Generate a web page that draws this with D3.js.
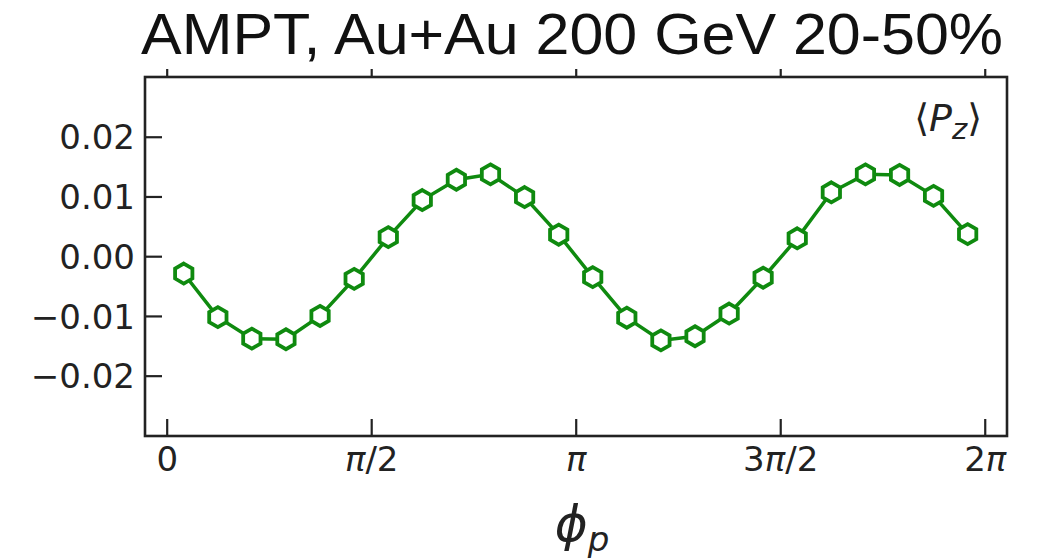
<!DOCTYPE html>
<html>
<head>
<meta charset="utf-8">
<script src="https://cdn.jsdelivr.net/npm/d3@7"></script>
<style>
  body { margin: 0; background: #fff; }
  svg { display: block; }
  .tick text { font-family: "DejaVu Sans", sans-serif; fill: #222; }
</style>
</head>
<body>
<div id="grafico"></div>
<script>
// dados (24 bins em phi_p)
var phiBins = [0.131, 0.393, 0.654, 0.916, 1.178, 1.440, 1.702, 1.963, 2.225, 2.487, 2.749, 3.011,
               3.272, 3.534, 3.796, 4.058, 4.320, 4.581, 4.843, 5.105, 5.367, 5.629, 5.890, 6.152];
var pzValores = [-0.0029, -0.0102, -0.0138, -0.0139, -0.0100, -0.0038, 0.0032, 0.0094, 0.0128, 0.0137, 0.0099, 0.0036,
                 -0.0035, -0.0103, -0.0141, -0.0134, -0.0096, -0.0036, 0.0030, 0.0107, 0.0137, 0.0136, 0.0101, 0.0037];
var xTicks = [0, Math.PI / 2, Math.PI, 3 * Math.PI / 2, 2 * Math.PI];
var xTickLabels = [["", "0", ""], ["", "π", "/2"], ["", "π", ""], ["3", "π", "/2"], ["2", "π", ""]];
var yTicks = [-0.02, -0.01, 0, 0.01, 0.02];
var yTickLabels = ["\u22120.02", "\u22120.01", "0.00", "0.01", "0.02"];
var titulo = "AMPT, Au+Au 200 GeV 20-50%";

var largura = 1045, altura = 558;
var margem = {top: 77, right: 38, bottom: 122, left: 145};
var w = largura - margem.left - margem.right;
var h = altura - margem.top - margem.bottom;
var verde = "#0f8a0f";

var svg = d3.select("#grafico").append("svg")
    .attr("width", largura)
    .attr("height", altura);

var g = svg.append("g")
    .attr("transform", "translate(" + margem.left + "," + margem.top + ")");

var x = d3.scaleLinear().domain([-0.1666, 2 * Math.PI + 0.171]).range([0, w]);
var y = d3.scaleLinear().domain([-0.0301, 0.0300]).range([h, 0]);

// eixos
var eixoY = g.append("g")
    .call(d3.axisLeft(y).tickValues(yTicks).tickSize(-17).tickPadding(10)
        .tickFormat(function(d, i) { return yTickLabels[i]; }));
eixoY.selectAll("text").style("font-size", "34px").attr("dy", "0.36em");

var eixoX = g.append("g")
    .attr("transform", "translate(0," + h + ")")
    .call(d3.axisBottom(x).tickValues(xTicks).tickSize(-17).tickPadding(11)
        .tickFormat(""));
eixoX.selectAll(".tick text").each(function(d, i) {
    var t = d3.select(this).style("font-size", "34px");
    var partes = xTickLabels[i];
    t.append("tspan").text(partes[0]);
    t.append("tspan").style("font-style", "italic").text(partes[1] == "π" ? "π" : "");
    if (partes[1] != "π") t.append("tspan").text(partes[1]);
    t.append("tspan").text(partes[2]);
});

var eixoTopo = g.append("g")
    .call(d3.axisTop(x).tickValues(xTicks).tickSize(8).tickFormat(""));

[eixoY, eixoX, eixoTopo].forEach(function(e) {
    e.select(".domain").remove();
    e.selectAll(".tick line").attr("stroke", "#222").attr("stroke-width", 2.2);
});

// moldura
g.append("rect")
    .attr("width", w).attr("height", h)
    .attr("fill", "none")
    .attr("stroke", "#222")
    .attr("stroke-width", 2.6);

// linha
var linha = d3.line()
    .x(function(d, i) { return x(phiBins[i]); })
    .y(function(d) { return y(d); });

g.append("path")
    .datum(pzValores)
    .attr("d", linha)
    .attr("fill", "none")
    .attr("stroke", verde)
    .attr("stroke-width", 3.5);

// marcador hexagonal (ponta para cima)
var hexagono = {
    draw: function(context, size) {
        var r = Math.sqrt(size / (1.5 * Math.sqrt(3)));
        for (var k = 0; k < 6; k++) {
            var a = -Math.PI / 2 + k * Math.PI / 3;
            if (k == 0) context.moveTo(r * Math.cos(a), r * Math.sin(a));
            else context.lineTo(r * Math.cos(a), r * Math.sin(a));
        }
        context.closePath();
    }
};
var simbolo = d3.symbol().type(hexagono).size(1.5 * Math.sqrt(3) * 10 * 10);

g.selectAll(".ponto")
    .data(pzValores)
    .enter().append("path")
    .attr("class", "ponto")
    .attr("transform", function(d, i) { return "translate(" + x(phiBins[i]) + "," + y(d) + ")"; })
    .attr("d", simbolo)
    .attr("fill", "#fff")
    .attr("stroke", verde)
    .attr("stroke-width", 3.8);

// titulo
svg.append("text")
    .attr("x", 141).attr("y", 54)
    .attr("textLength", 862)
    .attr("lengthAdjust", "spacingAndGlyphs")
    .style("font-family", "'Liberation Sans', Arial, sans-serif")
    .style("font-size", "57px")
    .style("fill", "#111")
    .text(titulo);

// rotulo <Pz>
var rotulo = svg.append("text")
    .attr("x", 982).attr("y", 131)
    .attr("text-anchor", "end")
    .style("font-family", "'DejaVu Sans', sans-serif")
    .style("font-size", "38px")
    .style("fill", "#222");
rotulo.append("tspan").text("\u27E8");
rotulo.append("tspan").style("font-style", "italic").text("P");
rotulo.append("tspan").style("font-style", "italic").style("font-size", "29px").attr("dy", 8).text("z");
rotulo.append("tspan").attr("dy", -8).text("\u27E9");

// rotulo eixo x
var rotuloX = svg.append("text")
    .attr("x", 582).attr("y", 541)
    .attr("text-anchor", "middle")
    .style("font-family", "'DejaVu Sans', sans-serif")
    .style("font-size", "50px")
    .style("font-style", "italic")
    .style("fill", "#222");
rotuloX.append("tspan").text("\u03D5");
rotuloX.append("tspan").style("font-size", "34px").attr("dy", 10).text("p");
</script>
</body>
</html>
